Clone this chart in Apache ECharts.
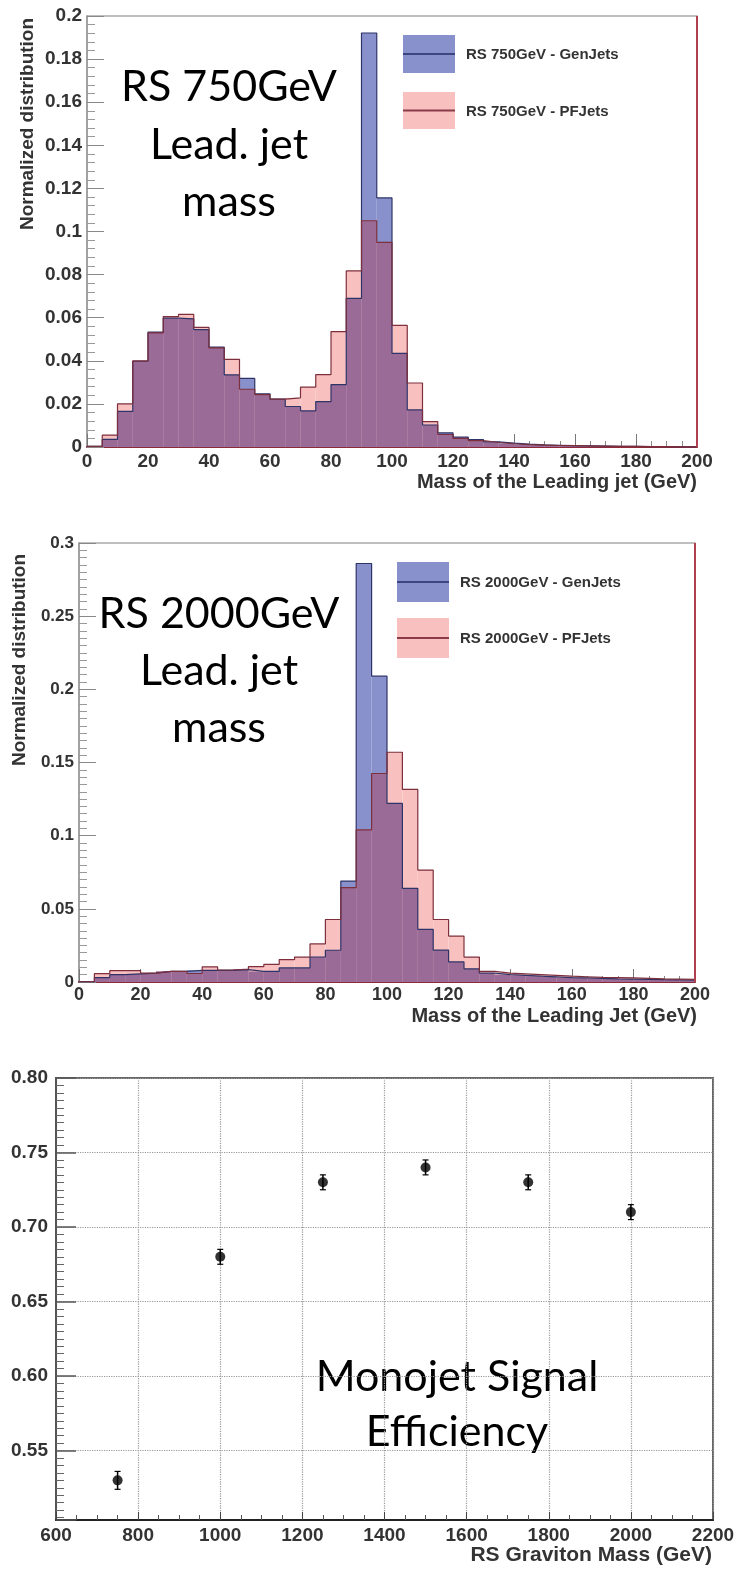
<!DOCTYPE html>
<html>
<head>
<meta charset="utf-8">
<script src="https://cdn.jsdelivr.net/npm/echarts@6/dist/echarts.min.js"></script>
<style>
  html, body { margin: 0; padding: 0; background: #fff; }
  #main { width: 739px; height: 1569px; }
</style>
</head>
<body>
<div id="main"></div>
<script>
// bin lower edges, 5 GeV wide, 0..200
const binEdges = [0, 5, 10, 15, 20, 25, 30, 35, 40, 45, 50, 55, 60, 65, 70, 75, 80, 85, 90, 95,
  100, 105, 110, 115, 120, 125, 130, 135, 140, 145, 150, 155, 160, 165, 170, 175, 180, 185, 190, 195];
const binWidth = 5;

// RS 750GeV leading jet mass
const gen750 = [0.0003, 0.0035, 0.0165, 0.0398, 0.0533, 0.0598, 0.0595, 0.0545, 0.0463, 0.0335,
  0.0318, 0.0247, 0.0222, 0.0188, 0.0168, 0.0211, 0.0289, 0.0690, 0.1921, 0.1156,
  0.0434, 0.0172, 0.0102, 0.0066, 0.0046, 0.0034, 0.0024, 0.0018, 0.0013, 0.0010,
  0.0008, 0.0006, 0.0005, 0.0004, 0.0003, 0.0003, 0.0002, 0.0002, 0.0001, 0.0001];
const pf750 = [0.0003, 0.0055, 0.0200, 0.0400, 0.0530, 0.0605, 0.0615, 0.0555, 0.0460, 0.0407,
  0.0268, 0.0243, 0.0222, 0.0228, 0.0278, 0.0336, 0.0535, 0.0817, 0.1050, 0.0950,
  0.0564, 0.0297, 0.0118, 0.0058, 0.0040, 0.0030, 0.0021, 0.0015, 0.0011, 0.0009,
  0.0007, 0.0006, 0.0005, 0.0004, 0.0003, 0.0003, 0.0002, 0.0002, 0.0001, 0.0001];

// RS 2000GeV leading jet mass
const gen2000 = [0, 0.0030, 0.0050, 0.0055, 0.0060, 0.0072, 0.0072, 0.0080, 0.0080, 0.0080,
  0.0085, 0.0072, 0.0072, 0.0096, 0.0096, 0.0171, 0.0217, 0.0690, 0.2860, 0.2090,
  0.1220, 0.0640, 0.0360, 0.0218, 0.0137, 0.0090, 0.0060, 0.0050, 0.0045, 0.0040,
  0.0035, 0.0030, 0.0028, 0.0025, 0.0022, 0.0020, 0.0018, 0.0016, 0.0015, 0.0012];
const pf2000 = [0, 0.0057, 0.0078, 0.0078, 0.0060, 0.0072, 0.0072, 0.0058, 0.0104, 0.0082,
  0.0089, 0.0105, 0.0120, 0.0153, 0.0170, 0.0260, 0.0427, 0.0645, 0.1040, 0.1425,
  0.1570, 0.1316, 0.0765, 0.0427, 0.0314, 0.0170, 0.0072, 0.0060, 0.0055, 0.0050,
  0.0045, 0.0040, 0.0036, 0.0032, 0.0030, 0.0028, 0.0025, 0.0022, 0.0020, 0.0018];

// monojet signal efficiency
const gravMass = [750, 1000, 1250, 1500, 1750, 2000];
const effVal = [0.530, 0.680, 0.730, 0.740, 0.730, 0.710];
const effErr = [0.006, 0.005, 0.005, 0.005, 0.005, 0.005];

const GEN_FILL = '#8891cb', PF_FILL = '#f8c1c0', MIX_FILL = '#9b6b97';
const GEN_LINE = '#2f3468', PF_LINE = '#7d2f3c';
const FONT = '"Liberation Sans", Arial, sans-serif';
const BIG = 'Lato, "Open Sans", sans-serif';

function bins(vals) {
  return vals.map((v, i) => [binEdges[i], binEdges[i] + binWidth, v]);
}
function steps(vals) {
  let pts = vals.map((v, i) => [binEdges[i], v]);
  pts.push([binEdges[binEdges.length - 1] + binWidth, vals[vals.length - 1]]);
  return pts;
}
function overlap(a, b) {
  return a.map((v, i) => Math.min(v, b[i]));
}
function rectItem(color) {
  return function (params, api) {
    let p0 = api.coord([api.value(0), api.value(2)]);
    let p1 = api.coord([api.value(1), 0]);
    return {
      type: 'rect',
      shape: { x: p0[0], y: p0[1], width: p1[0] - p0[0], height: p1[1] - p0[1] },
      style: { fill: color }
    };
  };
}

function histSeries(idx, gen, pf) {
  return [
    { type: 'custom', xAxisIndex: idx, yAxisIndex: idx, data: bins(gen), encode: { x: [0, 1], y: 2 }, renderItem: rectItem(GEN_FILL) },
    { type: 'custom', xAxisIndex: idx, yAxisIndex: idx, data: bins(pf), encode: { x: [0, 1], y: 2 }, renderItem: rectItem(PF_FILL) },
    { type: 'custom', xAxisIndex: idx, yAxisIndex: idx, data: bins(overlap(gen, pf)), encode: { x: [0, 1], y: 2 }, renderItem: rectItem(MIX_FILL) },
    { type: 'line', xAxisIndex: idx, yAxisIndex: idx, data: steps(gen), step: 'end', showSymbol: false,
      lineStyle: { color: GEN_LINE, width: 1.2 } },
    { type: 'line', xAxisIndex: idx, yAxisIndex: idx, data: steps(pf), step: 'end', showSymbol: false,
      lineStyle: { color: PF_LINE, width: 1.2 },
      markLine: { silent: true, symbol: ['none', 'none'], label: { show: false },
        lineStyle: { color: '#b0404f', width: 2, type: 'solid' }, data: [{ xAxis: 200 }] } }
  ];
}

function histX(idx, size, margin) {
  return {
    type: 'value', gridIndex: idx, min: 0, max: 200, interval: 20,
    axisLine: { lineStyle: { color: '#8c2a3a', width: 2 } },
    axisTick: { inside: true, length: 13, lineStyle: { color: '#777' } },
    minorTick: { show: true, splitNumber: 4, length: 6, lineStyle: { color: '#888' } },
    axisLabel: { fontFamily: FONT, fontWeight: 'bold', fontSize: size, color: '#333', margin: margin },
    splitLine: { show: false }
  };
}
function histY(idx, max, interval, minorSplit, size) {
  return {
    type: 'value', gridIndex: idx, min: 0, max: max, interval: interval,
    axisLine: { show: true, lineStyle: { color: '#999', width: 1.5 } },
    axisTick: { show: true, inside: true, length: 17, lineStyle: { color: '#888' } },
    minorTick: { show: true, splitNumber: minorSplit, length: 8, lineStyle: { color: '#999' } },
    axisLabel: { fontFamily: FONT, fontWeight: 'bold', fontSize: size, color: '#333', margin: 5 },
    splitLine: { show: false }
  };
}

function txt(x, y, s, size, align, rot) {
  return {
    type: 'text', x: x, y: y, rotation: rot || 0,
    style: { text: s, fontFamily: FONT, fontWeight: 'bold', fontSize: size, fill: '#333',
      align: align || 'left', verticalAlign: 'middle' }
  };
}
function bigTxt(x, y, s) {
  return { type: 'text', x: x, y: y,
    style: { text: s, fontFamily: BIG, fontSize: 43, fill: '#000', align: 'center', verticalAlign: 'middle' } };
}
function legendBox(x, y, w, h, fill, line, label) {
  return [
    { type: 'rect', shape: { x: x, y: y, width: w, height: h }, style: { fill: fill } },
    { type: 'line', shape: { x1: x, y1: y + h / 2, x2: x + w, y2: y + h / 2 }, style: { stroke: line, lineWidth: 2 } },
    txt(x + w + 11, y + h / 2 + 1, label, 15)
  ];
}

const chart = echarts.init(document.getElementById('main'), null, { renderer: 'canvas' });

const errSeries = {
  type: 'custom', xAxisIndex: 2, yAxisIndex: 2,
  data: gravMass.map((m, i) => [m, effVal[i] - effErr[i], effVal[i] + effErr[i]]),
  encode: { x: 0, y: [1, 2] },
  renderItem: function (params, api) {
    let lo = api.coord([api.value(0), api.value(1)]);
    let hi = api.coord([api.value(0), api.value(2)]);
    return {
      type: 'group',
      children: [
        { type: 'line', shape: { x1: lo[0], y1: lo[1], x2: hi[0], y2: hi[1] }, style: { stroke: '#000', lineWidth: 1.5 } },
        { type: 'line', shape: { x1: hi[0] - 3, y1: hi[1], x2: hi[0] + 3, y2: hi[1] }, style: { stroke: '#000', lineWidth: 1.2 } },
        { type: 'line', shape: { x1: lo[0] - 3, y1: lo[1], x2: lo[0] + 3, y2: lo[1] }, style: { stroke: '#000', lineWidth: 1.2 } }
      ]
    };
  }
};

const option = {
  animation: false,
  backgroundColor: '#fff',
  grid: [
    { left: 87, top: 16, width: 610, height: 431, show: true, borderColor: '#aaa', borderWidth: 1.5, backgroundColor: 'transparent' },
    { left: 79, top: 543, width: 616, height: 439, show: true, borderColor: '#aaa', borderWidth: 1.5, backgroundColor: 'transparent' },
    { left: 56, top: 1078, width: 657, height: 442, show: true, borderColor: '#666', borderWidth: 2, backgroundColor: 'transparent' }
  ],
  xAxis: [
    histX(0, 19, 5),
    histX(1, 18, 4),
    {
      type: 'value', gridIndex: 2, min: 600, max: 2200, interval: 200,
      axisLine: { lineStyle: { color: '#222', width: 2 } },
      axisTick: { inside: true, length: 8, lineStyle: { color: '#444' } },
      minorTick: { show: true, splitNumber: 4, length: 5, lineStyle: { color: '#555' } },
      axisLabel: { fontFamily: FONT, fontWeight: 'bold', fontSize: 19, color: '#333', margin: 6,
        formatter: v => String(v) },
      splitLine: { show: true, lineStyle: { color: '#999', type: 'dotted', width: 1.2 } }
    }
  ],
  yAxis: [
    histY(0, 0.2, 0.02, 5, 19),
    histY(1, 0.3, 0.05, 10, 17),
    {
      type: 'value', gridIndex: 2, min: 0.5034, max: 0.8, splitNumber: 6,
      axisLine: { show: true, lineStyle: { color: '#555', width: 2 } },
      axisTick: { show: true, inside: true, length: 20, lineStyle: { color: '#555', width: 1.5 } },
      minorTick: { show: true, splitNumber: 10, length: 8, lineStyle: { color: '#666' } },
      axisLabel: { fontFamily: FONT, fontWeight: 'bold', fontSize: 19, color: '#333', margin: 8,
        showMinLabel: false, formatter: v => v.toFixed(2) },
      splitLine: { show: true, lineStyle: { color: '#999', type: 'dotted', width: 1.2 } }
    }
  ],
  series: [].concat(
    histSeries(0, gen750, pf750),
    histSeries(1, gen2000, pf2000),
    [errSeries, {
      type: 'scatter', xAxisIndex: 2, yAxisIndex: 2, symbol: 'circle', symbolSize: 10,
      itemStyle: { color: '#000' },
      data: gravMass.map((m, i) => [m, effVal[i]])
    }]
  ),
  graphic: [].concat(
    legendBox(403, 35, 52, 38, GEN_FILL, '#3c4580', 'RS 750GeV - GenJets'),
    legendBox(403, 92, 52, 37, PF_FILL, '#8a3a48', 'RS 750GeV - PFJets'),
    legendBox(397, 562, 52, 40, GEN_FILL, '#3c4580', 'RS 2000GeV - GenJets'),
    legendBox(397, 618, 52, 40, PF_FILL, '#8a3a48', 'RS 2000GeV - PFJets'),
    [
      txt(28, 124, 'Normalized distribution', 19, 'center', Math.PI / 2),
      txt(20, 660, 'Normalized distribution', 19, 'center', Math.PI / 2),
      txt(697, 482, 'Mass of the Leading jet (GeV)', 20, 'right'),
      txt(697, 1016, 'Mass of the Leading Jet (GeV)', 20, 'right'),
      txt(712, 1555, 'RS Graviton Mass (GeV)', 21, 'right'),
      bigTxt(229, 87, 'RS 750GeV'),
      bigTxt(229, 145, 'Lead. jet'),
      bigTxt(229, 202, 'mass'),
      bigTxt(219, 614, 'RS 2000GeV'),
      bigTxt(219, 671, 'Lead. jet'),
      bigTxt(219, 728, 'mass'),
      bigTxt(457, 1377, 'Monojet Signal'),
      bigTxt(457, 1432, 'Efficiency')
    ]
  )
};

chart.setOption(option);
window.addEventListener('resize', chart.resize);
</script>
</body>
</html>
